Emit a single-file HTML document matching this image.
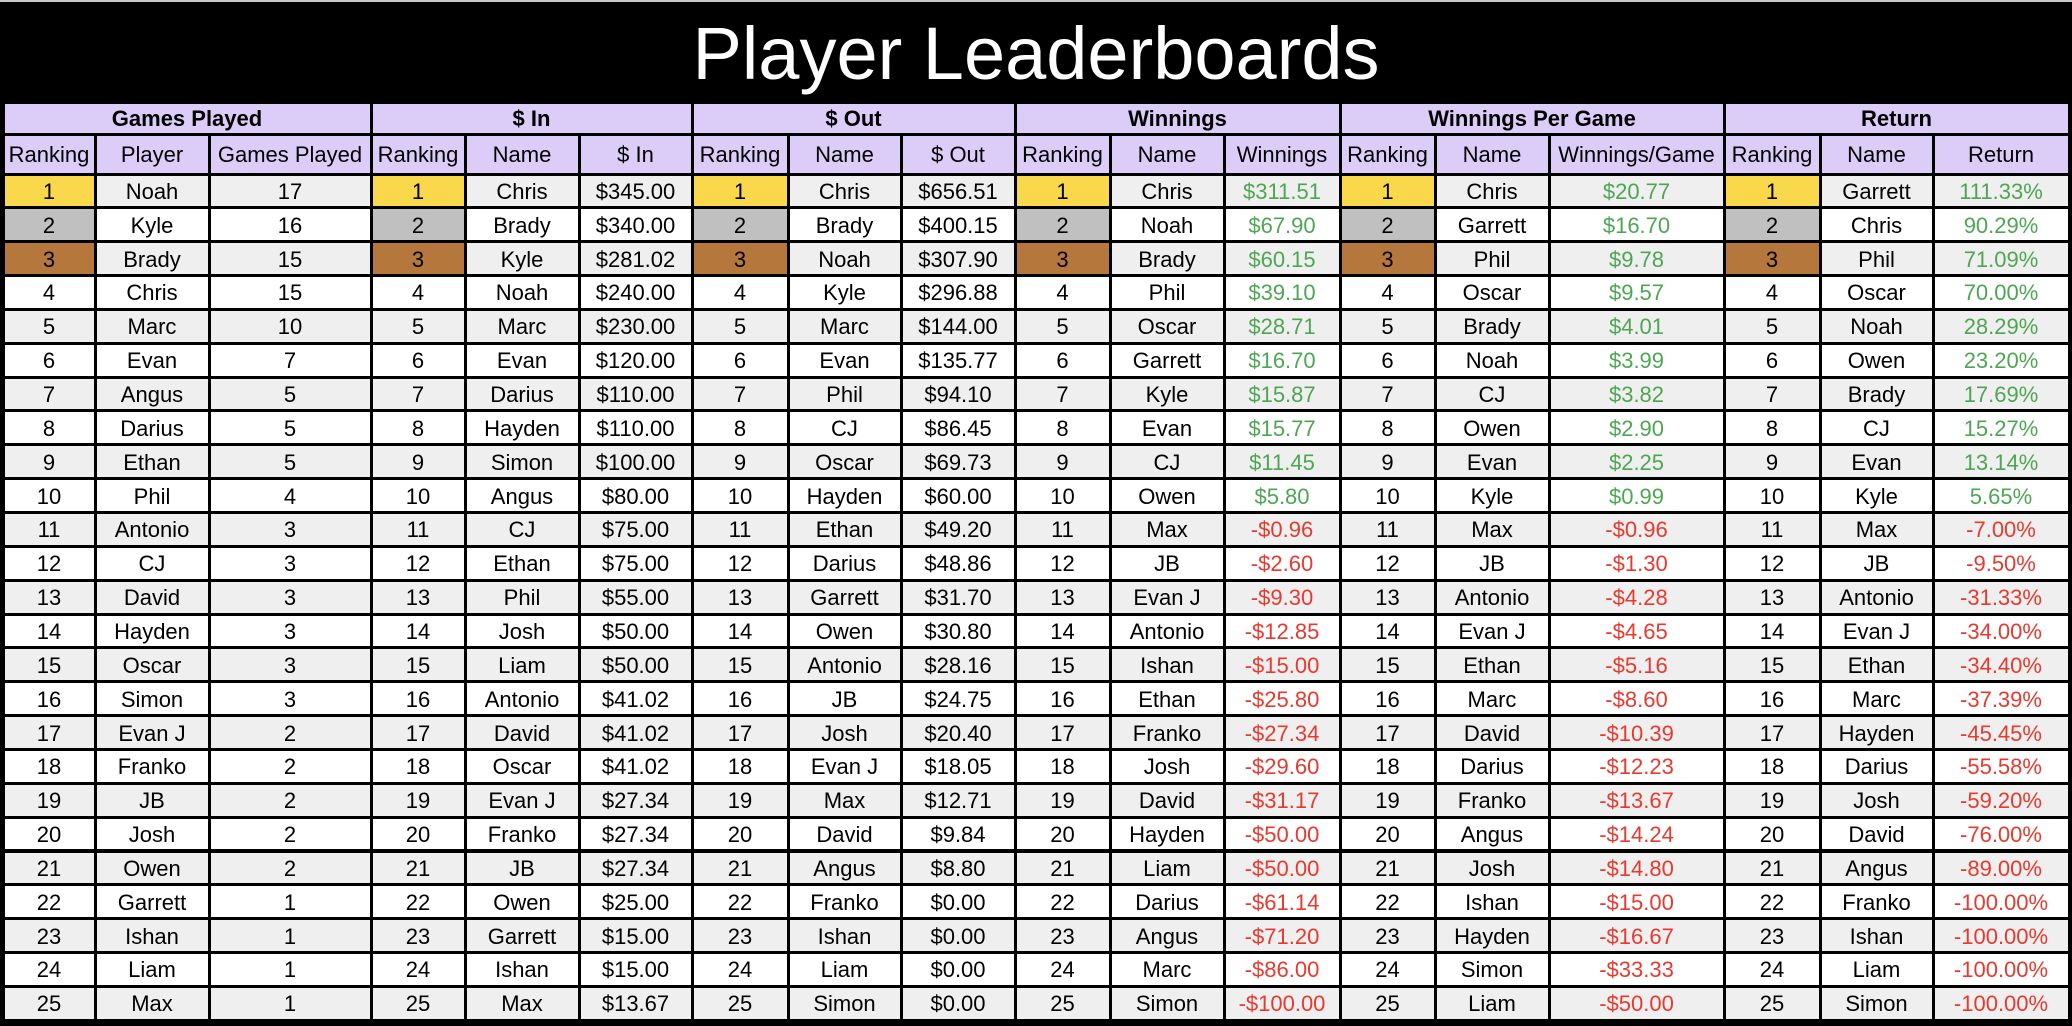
<!DOCTYPE html>
<html><head><meta charset="utf-8">
<style>
html,body{margin:0;padding:0;}
body{width:2072px;height:1026px;background:#000;position:relative;overflow:hidden;font-family:"Liberation Sans",Arimo,Arial,Helvetica,sans-serif;}
#topline{position:absolute;left:0;top:0;width:2072px;height:2px;background:#c8c8c8;}
#title{position:absolute;left:0;top:0;width:2072px;height:104px;line-height:108px;text-align:center;color:#fff;font-size:74px;}
.c{position:absolute;box-sizing:border-box;display:flex;align-items:center;justify-content:center;font-size:22px;color:#000;white-space:nowrap;padding-top:2px;}
.g{font-weight:bold;}
</style></head>
<body>
<div id="topline"></div>
<div id="title">Player Leaderboards</div>
<div id="grid"></div>
<script>
const groups=["Games Played","$ In","$ Out","Winnings","Winnings Per Game","Return"];
const subheads=[["Ranking","Player","Games Played"],["Ranking","Name","$ In"],["Ranking","Name","$ Out"],["Ranking","Name","Winnings"],["Ranking","Name","Winnings/Game"],["Ranking","Name","Return"]];
const gpNames=["Noah","Kyle","Brady","Chris","Marc","Evan","Angus","Darius","Ethan","Phil","Antonio","CJ","David","Hayden","Oscar","Simon","Evan J","Franko","JB","Josh","Owen","Garrett","Ishan","Liam","Max"];
const gpVals=["17","16","15","15","10","7","5","5","5","4","3","3","3","3","3","3","2","2","2","2","2","1","1","1","1"];
const inNames=["Chris","Brady","Kyle","Noah","Marc","Evan","Darius","Hayden","Simon","Angus","CJ","Ethan","Phil","Josh","Liam","Antonio","David","Oscar","Evan J","Franko","JB","Owen","Garrett","Ishan","Max"];
const inVals=["$345.00","$340.00","$281.02","$240.00","$230.00","$120.00","$110.00","$110.00","$100.00","$80.00","$75.00","$75.00","$55.00","$50.00","$50.00","$41.02","$41.02","$41.02","$27.34","$27.34","$27.34","$25.00","$15.00","$15.00","$13.67"];
const outNames=["Chris","Brady","Noah","Kyle","Marc","Evan","Phil","CJ","Oscar","Hayden","Ethan","Darius","Garrett","Owen","Antonio","JB","Josh","Evan J","Max","David","Angus","Franko","Ishan","Liam","Simon"];
const outVals=["$656.51","$400.15","$307.90","$296.88","$144.00","$135.77","$94.10","$86.45","$69.73","$60.00","$49.20","$48.86","$31.70","$30.80","$28.16","$24.75","$20.40","$18.05","$12.71","$9.84","$8.80","$0.00","$0.00","$0.00","$0.00"];
const winNames=["Chris","Noah","Brady","Phil","Oscar","Garrett","Kyle","Evan","CJ","Owen","Max","JB","Evan J","Antonio","Ishan","Ethan","Franko","Josh","David","Hayden","Liam","Darius","Angus","Marc","Simon"];
const winVals=["$311.51","$67.90","$60.15","$39.10","$28.71","$16.70","$15.87","$15.77","$11.45","$5.80","-$0.96","-$2.60","-$9.30","-$12.85","-$15.00","-$25.80","-$27.34","-$29.60","-$31.17","-$50.00","-$50.00","-$61.14","-$71.20","-$86.00","-$100.00"];
const wpgNames=["Chris","Garrett","Phil","Oscar","Brady","Noah","CJ","Owen","Evan","Kyle","Max","JB","Antonio","Evan J","Ethan","Marc","David","Darius","Franko","Angus","Josh","Ishan","Hayden","Simon","Liam"];
const wpgVals=["$20.77","$16.70","$9.78","$9.57","$4.01","$3.99","$3.82","$2.90","$2.25","$0.99","-$0.96","-$1.30","-$4.28","-$4.65","-$5.16","-$8.60","-$10.39","-$12.23","-$13.67","-$14.24","-$14.80","-$15.00","-$16.67","-$33.33","-$50.00"];
const retNames=["Garrett","Chris","Phil","Oscar","Noah","Owen","Brady","CJ","Evan","Kyle","Max","JB","Antonio","Evan J","Ethan","Marc","Hayden","Darius","Josh","David","Angus","Franko","Ishan","Liam","Simon"];
const retVals=["111.33%","90.29%","71.09%","70.00%","28.29%","23.20%","17.69%","15.27%","13.14%","5.65%","-7.00%","-9.50%","-31.33%","-34.00%","-34.40%","-37.39%","-45.45%","-55.58%","-59.20%","-76.00%","-89.00%","-100.00%","-100.00%","-100.00%","-100.00%"];
const tables=[[gpNames,gpVals,false],[inNames,inVals,false],[outNames,outVals,false],[winNames,winVals,true],[wpgNames,wpgVals,true],[retNames,retVals,true]];
const xs=[3,95,209,371,465,579,692,788,901,1015,1110,1224,1340,1435,1549,1724,1820,1933,2069];
const yG=102,yS=134,yD=174,rowH=33.85;
const grid=document.getElementById('grid');
const B=1.5;
function cell(x0,x1,y0,y1,text,bg,color,cls){
  const d=document.createElement('div');
  d.className='c'+(cls?' '+cls:'');
  d.style.left=(x0+B)+'px';d.style.top=(y0+B)+'px';
  d.style.width=(x1-x0-2*B)+'px';d.style.height=(y1-y0-2*B)+'px';
  d.style.background=bg;if(color)d.style.color=color;
  d.textContent=text;grid.appendChild(d);return d;
}
const rankBg=["#f9d84b","#c0c0c0","#b5773b"];
for(let t=0;t<6;t++){
  const c0=t*3;
  const g=cell(xs[c0],xs[c0+3],yG,yS,groups[t],"#dcccf8",null,'g');
  
  
  for(let k=0;k<3;k++){
    const s=cell(xs[c0+k],xs[c0+k+1],yS,yD,subheads[t][k],"#dcccf8");
    
    
  }
  const [names,vals,colored]=tables[t];
  for(let r=0;r<25;r++){
    const y0=yD+r*rowH,y1=y0+rowH;
    const bg=(r%2===0)?"#efefef":"#ffffff";
    const rk=cell(xs[c0],xs[c0+1],y0,y1,String(r+1),r<3?rankBg[r]:bg);
    
    
    const nm=cell(xs[c0+1],xs[c0+2],y0,y1,names[r],bg);
    
    
    let col=null;
    if(colored)col=vals[r].charAt(0)==='-'?"#e8392f":"#4ea653";
    const v=cell(xs[c0+2],xs[c0+3],y0,y1,vals[r],bg,col);
    
    
  }
}
</script>
</body></html>
